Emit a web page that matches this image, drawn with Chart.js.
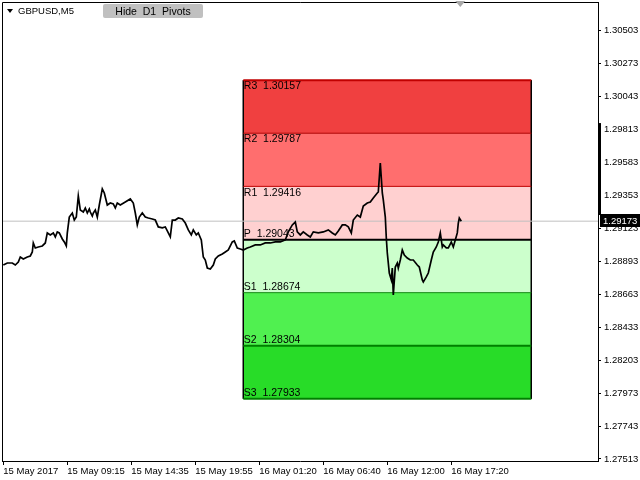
<!DOCTYPE html>
<html>
<head>
<meta charset="utf-8">
<script src="https://cdn.jsdelivr.net/npm/chart.js@4.4.0/dist/chart.umd.min.js"></script>
<style>
  body { margin: 0; background: #fff; }
  #wrap { position: relative; width: 640px; height: 480px; }
  #sym { position: absolute; left: 18px; top: 5px; font: 9.5px "Liberation Sans", Arial, sans-serif; color: #000; }
  #tri { position: absolute; left: 7px; top: 9px; width: 0; height: 0;
         border-left: 3px solid transparent; border-right: 3px solid transparent; border-top: 4px solid #000; }
  #btn { position: absolute; left: 103px; top: 4px; width: 100px; height: 14px; background: #c0c0c0;
         border-radius: 2px; font: 10.5px "Liberation Sans", Arial, sans-serif; color: #000;
         text-align: center; line-height: 14px; white-space: pre; }
</style>
</head>
<body>
<div id="wrap">
  <canvas id="chart" width="640" height="480"></canvas>
  <div id="tri"></div>
  <div id="sym">GBPUSD,M5</div>
  <div id="btn">Hide  D1  Pivots</div>
</div>
<script>
// M5 bars, one bar per pixel; index 0 = first visible bar
const barIndex = [
  0, 4, 9, 12, 15, 17, 20, 24, 27, 29, 30, 32, 35, 39, 42, 44, 47, 50, 52, 54, 56,
  59, 61, 63, 64, 66, 69, 71, 73, 75, 77, 80, 82, 84, 86, 87, 89, 90, 92, 94, 96, 99, 101, 104, 107,
  110, 112, 114, 117, 122, 127, 130, 132, 134, 136, 139, 142, 145, 149, 152, 155, 159, 162, 165, 167, 169,
  172, 175, 179, 182, 185, 188, 190, 193, 195, 198, 200, 202, 204, 207, 210, 212, 215, 219, 222, 225,
  229, 231, 234, 237, 240, 244, 247, 252, 257, 262, 267, 272, 277, 282, 285, 289, 292, 294, 297, 300,
  304, 307, 310, 315, 320, 325, 329, 332, 335, 339, 342, 345, 348, 350, 354, 357, 360, 364, 367, 370,
  374, 375, 377, 379, 380, 382, 383, 384, 386, 388, 389, 390, 392, 394, 395, 397, 399, 401, 404, 407,
  410, 414, 416, 419, 420, 423, 425, 428, 430, 433, 435, 437, 439, 440, 443, 445, 448, 450, 452, 454,
  455, 456, 458
];
const closePrice = [
  1.28867, 1.28881, 1.28881, 1.28867, 1.28888, 1.28923, 1.28909, 1.28923, 1.28930, 1.28958,
  1.29021, 1.28986, 1.28993, 1.29000, 1.29021, 1.29091, 1.29077, 1.29091, 1.29063, 1.29098, 1.29091,
  1.29049, 1.29028, 1.29000, 1.29091, 1.29202, 1.29230, 1.29181, 1.29202, 1.29349, 1.29251,
  1.29237, 1.29265, 1.29230, 1.29258, 1.29237, 1.29209, 1.29230, 1.29251, 1.29202, 1.29286, 1.29398, 1.29370, 1.29286, 1.29300,
  1.29293, 1.29265, 1.29300, 1.29286, 1.29307, 1.29328, 1.29300, 1.29230, 1.29147, 1.29202, 1.29230,
  1.29202, 1.29195, 1.29188, 1.29181, 1.29133, 1.29126, 1.29133, 1.29091, 1.29063, 1.29181,
  1.29181, 1.29195, 1.29188, 1.29160, 1.29112, 1.29077, 1.29112, 1.29077, 1.29091, 1.29042,
  1.28923, 1.28902, 1.28846, 1.28839, 1.28867, 1.28909, 1.28930, 1.28944, 1.28958, 1.28972,
  1.29028, 1.29035, 1.28986, 1.28979, 1.28972, 1.28986, 1.28993, 1.29007, 1.29007, 1.29021,
  1.29021, 1.29028, 1.29028, 1.29042, 1.29098, 1.29147, 1.29167, 1.29098, 1.29077, 1.29098,
  1.29077, 1.29063, 1.29098, 1.29091, 1.29098, 1.29112, 1.29091, 1.29077, 1.29105, 1.29147,
  1.29147, 1.29133, 1.29091, 1.29181, 1.29216, 1.29202, 1.29279, 1.29300, 1.29307, 1.29335,
  1.29370, 1.29377, 1.29579, 1.29370, 1.29321, 1.29202, 1.29056, 1.28951, 1.28811, 1.28763,
  1.28846, 1.28658, 1.28853, 1.28881, 1.28846, 1.28902, 1.28972, 1.28937, 1.28916, 1.28902,
  1.28902, 1.28867, 1.28853, 1.28763, 1.28749, 1.28784, 1.28811, 1.28902, 1.28958, 1.28993,
  1.29028, 1.29091, 1.28993, 1.29007, 1.28986, 1.28986, 1.29028, 1.28993, 1.29042, 1.29091,
  1.29160, 1.29195, 1.29173
];
const lastPrice = 1.29173;

// D1 pivots for 16 May (bar 240 = 16 May 00:00, bar 528 = 17 May 00:00)
const pivotNames = ['R3', 'R2', 'R1', 'P', 'S1', 'S2', 'S3'];
const pivotLevels = [1.30157, 1.29787, 1.29416, 1.29043, 1.28674, 1.28304, 1.27933];
const pivotFrom = 240;
const pivotTo = 528;

const yTickValues = [1.30503, 1.30273, 1.30043, 1.29813, 1.29583, 1.29353, 1.29123,
  1.28893, 1.28663, 1.28433, 1.28203, 1.27973, 1.27743, 1.27513];
const xTickIndex = [0, 64, 128, 192, 256, 320, 384, 448];
const xTickLabels = ['15 May 2017', '15 May 09:15', '15 May 14:35', '15 May 19:55',
  '16 May 01:20', '16 May 06:40', '16 May 12:00', '16 May 17:20'];

// bar on the price axis
const axisBarHigh = 1.29858;
const axisBarLow = 1.29216;
const shiftMarkBar = 457;

// styles
const bandColors = ['#f04040', '#ff6e6e', '#ffd0d0', '#ccffcc', '#50f050', '#28dc28'];
const levelLineColors = ['#c00000', '#b00000', '#c00000', '#000000', '#108a10', '#008000', '#008000'];
const levelLineWidths = [2, 1, 1, 2, 1, 2, 2];
const FONT = '"Liberation Sans", Arial, sans-serif';

const datasets = [];
datasets.push({
  label: 'GBPUSD', data: barIndex.map((x, i) => ({ x: x, y: closePrice[i] })),
  borderColor: '#000', borderWidth: 1.7, pointRadius: 0, tension: 0, fill: false, order: 0
});
datasets.push({
  label: 'bid', data: [{ x: -5, y: lastPrice }, { x: 600, y: lastPrice }],
  borderColor: '#c0c0c0', borderWidth: 1, pointRadius: 0, fill: false, order: 1
});
pivotLevels.forEach((lv, i) => {
  datasets.push({
    label: pivotNames[i], data: [{ x: pivotFrom, y: lv }, { x: pivotTo, y: lv }],
    borderColor: levelLineColors[i], borderWidth: levelLineWidths[i],
    backgroundColor: bandColors[i] || 'transparent',
    fill: i < pivotLevels.length - 1 ? '+1' : false, pointRadius: 0, order: 2
  });
});
[pivotFrom, pivotTo].forEach(x => {
  datasets.push({
    label: 'edge', data: [{ x: x, y: pivotLevels[0] }, { x: x, y: pivotLevels[pivotLevels.length - 1] }],
    borderColor: '#000', borderWidth: 1, pointRadius: 0, fill: false, order: 2
  });
});

const pivotText = {
  id: 'pivotText',
  beforeDatasetsDraw(chart) {
    const ctx = chart.ctx, xs = chart.scales.x, ys = chart.scales.y;
    ctx.save();
    ctx.font = '10.5px ' + FONT;
    ctx.fillStyle = '#000';
    ctx.textAlign = 'left';
    pivotLevels.forEach((lv, i) => {
      const px = xs.getPixelForValue(pivotFrom) + 0.5;
      const py = ys.getPixelForValue(lv);
      const txt = pivotNames[i] + '  ' + lv.toFixed(5);
      if (i < 3) { ctx.textBaseline = 'top'; ctx.fillText(txt, px, py + 1); }
      else { ctx.textBaseline = 'alphabetic'; ctx.fillText(txt, px, py - 3); }
    });
    ctx.restore();
  }
};

const frame = {
  id: 'frame',
  afterDraw(chart) {
    const ctx = chart.ctx, a = chart.chartArea, xs = chart.scales.x, ys = chart.scales.y;
    ctx.save();
    ctx.strokeStyle = '#000';
    ctx.lineWidth = 1;
    ctx.beginPath();
    ctx.moveTo(a.left + 0.5, a.bottom);
    ctx.lineTo(a.left + 0.5, a.top + 0.5);
    ctx.lineTo(a.right, a.top + 0.5);
    ctx.stroke();
    // bar on the price axis
    const yh = ys.getPixelForValue(axisBarHigh), yl = ys.getPixelForValue(axisBarLow);
    ctx.fillStyle = '#000';
    ctx.fillRect(a.right, yh, 3, yl - yh);
    // current price tag
    const yp = Math.round(ys.getPixelForValue(lastPrice));
    ctx.fillStyle = '#000';
    ctx.fillRect(a.right + 2, yp - 7, 640 - a.right - 2, 13);
    ctx.fillStyle = '#fff';
    ctx.font = '9.5px ' + FONT;
    ctx.textAlign = 'left';
    ctx.textBaseline = 'middle';
    ctx.fillText(lastPrice.toFixed(5), a.right + 5, yp);
    // chart shift marker
    const xm = xs.getPixelForValue(shiftMarkBar);
    ctx.fillStyle = '#a8a8a8';
    ctx.beginPath();
    ctx.moveTo(xm - 5, 1);
    ctx.lineTo(xm + 5, 1);
    ctx.lineTo(xm, 7);
    ctx.closePath();
    ctx.fill();
    ctx.restore();
  }
};

new Chart(document.getElementById('chart'), {
  type: 'line',
  data: { datasets: datasets },
  options: {
    responsive: false,
    animation: false,
    devicePixelRatio: 1,
    events: [],
    layout: { padding: { left: 2, top: 2, right: 0, bottom: 0 } },
    plugins: {
      legend: { display: false },
      tooltip: { enabled: false },
      filler: { drawTime: 'beforeDatasetsDraw' }
    },
    scales: {
      x: {
        type: 'linear', position: 'bottom', min: -1.3, max: 594.7,
        afterBuildTicks: s => { s.ticks = xTickIndex.map(v => ({ value: v })); },
        afterFit: s => { s.height = 19; s.paddingLeft = 0; s.paddingRight = 0; },
        ticks: {
          autoSkip: false, maxRotation: 0, align: 'start', padding: 1, color: '#000',
          font: { family: FONT, size: 9.5 },
          callback: (v, i) => xTickLabels[i]
        },
        grid: { drawOnChartArea: false, drawTicks: true, tickLength: 4, color: '#000' },
        border: { display: true, color: '#000', width: 1 }
      },
      y: {
        type: 'linear', position: 'right', min: 1.27499, max: 1.30703,
        afterBuildTicks: s => { s.ticks = yTickValues.map(v => ({ value: v })); },
        afterFit: s => { s.width = 42; s.paddingTop = 0; s.paddingBottom = 0; },
        ticks: {
          autoSkip: false, padding: 3, color: '#000',
          font: { family: FONT, size: 9.5 },
          callback: v => v.toFixed(5)
        },
        grid: { drawOnChartArea: false, drawTicks: true, tickLength: 3, color: '#000' },
        border: { display: true, color: '#000', width: 1 }
      }
    }
  },
  plugins: [pivotText, frame]
});
</script>
</body>
</html>
